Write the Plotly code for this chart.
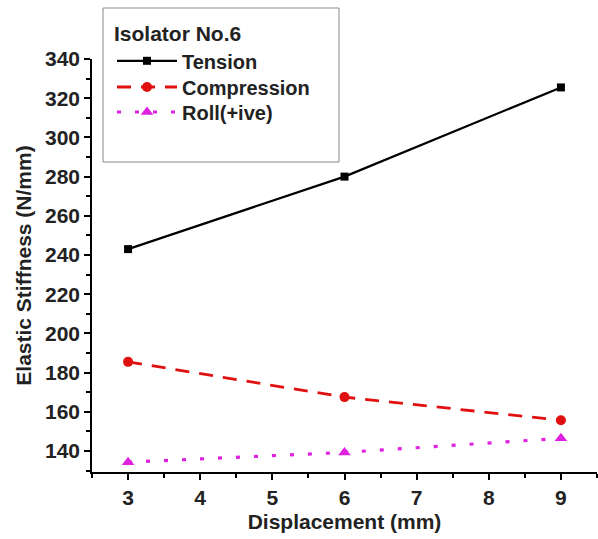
import plotly.graph_objects as go

displacement = [3, 6, 9]
tension = [243, 280, 325.5]
compression = [185.5, 167.5, 155.7]
roll = [134.3, 139.3, 146.5]

x_ticks = [3, 4, 5, 6, 7, 8, 9]
y_ticks = [140, 160, 180, 200, 220, 240, 260, 280, 300, 320, 340]

FONT = "Liberation Sans, Arial, sans-serif"
TXT = "#222222"

fig = go.Figure()
fig.add_trace(go.Scatter(x=displacement, y=tension, name="Tension", mode="lines+markers",
                         line=dict(color="black", width=2.2),
                         marker=dict(symbol="square", size=8, color="black"), legend="legend"))
fig.add_trace(go.Scatter(x=displacement, y=compression, name="Compression", mode="lines+markers",
                         line=dict(color="#e01010", width=2.8, dash="14px,10px"),
                         marker=dict(symbol="circle", size=10, color="#e01010"), legend="legend2"))
fig.add_trace(go.Scatter(x=displacement, y=roll, name="Roll(+ive)", mode="lines+markers",
                         line=dict(color="#e020e0", width=3.2, dash="4px,14px"),
                         marker=dict(symbol="triangle-up", size=11, color="#e020e0"), legend="legend3"))

L, R, T, B = 92, 1, 59, 67
W, H = 598, 539
pw, ph = W - L - R, H - T - B

def px_x(x):
    return (x - L) / pw

def px_y(y):
    return 1 - (y - T) / ph

fig.add_shape(type="rect", xref="paper", yref="paper",
              x0=px_x(103), x1=px_x(339), y0=px_y(162), y1=px_y(8),
              line=dict(color="#888888", width=1), fillcolor="white", layer="below")

def leg(x, y, anchor, title=None):
    d = dict(x=px_x(x), y=px_y(y), xanchor="left", yanchor=anchor,
             bgcolor="rgba(0,0,0,0)", borderwidth=0,
             font=dict(family=FONT, size=20, color=TXT, weight="bold"),
             itemwidth=60)
    if title:
        d["title"] = dict(text=title, font=dict(family=FONT, size=21, color=TXT), side="top")
    return d

fig.update_layout(
    width=W, height=H,
    margin=dict(l=L, r=R, t=T, b=B),
    plot_bgcolor="white", paper_bgcolor="white",
    font=dict(family=FONT, size=21, color=TXT),
    showlegend=True,
    legend=leg(112, 14, "top", "<b>Isolator No.6</b>"),
    legend2=leg(112, 87, "middle"),
    legend3=leg(112, 112, "middle"),
    xaxis=dict(
        range=[2.5, 9.5], tickvals=x_ticks, ticks="outside", ticklen=6, tickwidth=1.5,
        showline=True, linecolor="black", linewidth=1.5, showgrid=False, zeroline=False,
        tickfont=dict(family=FONT, size=21, weight="bold", color=TXT),
        minor=dict(ticks="outside", dtick=0.5, tick0=0, ticklen=4, tickwidth=1.5, tickcolor="black"),
        tickcolor="black",
        title=dict(text="<b>Displacement (mm)</b>", font=dict(family=FONT, size=21), standoff=6),
    ),
    yaxis=dict(
        range=[129.3, 340], tickvals=y_ticks, ticks="outside", ticklen=6, tickwidth=1.5,
        showline=True, linecolor="black", linewidth=1.5, showgrid=False, zeroline=False,
        tickfont=dict(family=FONT, size=21, weight="bold", color=TXT),
        minor=dict(ticks="outside", dtick=10, tick0=0, ticklen=4, tickwidth=1.5, tickcolor="black"),
        tickcolor="black",
        title=dict(text="<b>Elastic Stiffness (N/mm)</b>", font=dict(family=FONT, size=21), standoff=8),
    ),
)

fig.write_html("out.html")
